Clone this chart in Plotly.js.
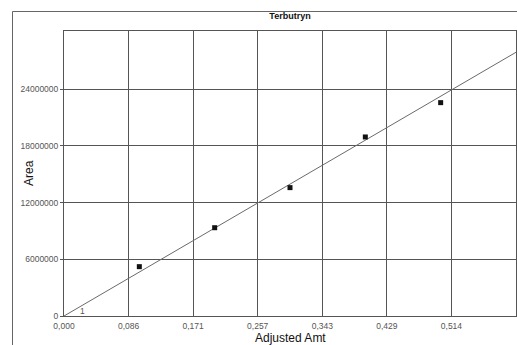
<!DOCTYPE html>
<html>
<head>
<meta charset="utf-8">
<script src="https://cdn.plot.ly/plotly-3.0.1.min.js"></script>
<style>
html,body{margin:0;padding:0;background:#ffffff;}
#chart{width:517px;height:345px;}
</style>
</head>
<body>
<div id="chart"></div>
<script>
// Calibration points (Adjusted Amt vs Area)
const amounts = [0.1, 0.2, 0.3, 0.4, 0.5];
const areas = [5220000, 9340000, 13580000, 18940000, 22570000];
// Calibration fit line end points
const fitX = [0, 0.6];
const fitY = [0, 27900000];
// Axis ticks
const xTickVals = [0, 0.6/7, 1.2/7, 1.8/7, 2.4/7, 3.0/7, 3.6/7, 0.6];
const xTickText = ["0,000", "0,086", "0,171", "0,257", "0,343", "0,429", "0,514", ""];
const yTickVals = [0, 6000000, 12000000, 18000000, 24000000];
const yTickText = ["0", "6000000", "12000000", "18000000", "24000000"];
const levelLabel = ["1"];
const levelX = [0.025];
const levelY = [500000];

const font = "Liberation Sans, Arial, sans-serif";

const traces = [
  {
    x: fitX, y: fitY, type: "scatter", mode: "lines",
    line: {color: "#6a6a6a", width: 1}, hoverinfo: "skip", showlegend: false
  },
  {
    x: amounts, y: areas, type: "scatter", mode: "markers",
    marker: {symbol: "square", size: 5, color: "#111111"}, showlegend: false
  }
];

const layout = {
  width: 517, height: 345,
  margin: {l: 64, r: 1, t: 31, b: 29},
  paper_bgcolor: "#ffffff",
  plot_bgcolor: "#ffffff",
  showlegend: false,
  font: {family: font, color: "#444", size: 8.5},
  title: {
    text: "<b>Terbutryn</b>",
    font: {family: font, size: 9, color: "#111"},
    xref: "paper", x: 0.5, xanchor: "center",
    yref: "container", y: 1 - 16/345, yanchor: "middle"
  },
  xaxis: {
    range: [0, 0.6],
    tickmode: "array", tickvals: xTickVals, ticktext: xTickText,
    showgrid: true, gridcolor: "#555", gridwidth: 1,
    zeroline: false,
    showline: true, linecolor: "#555", linewidth: 1, mirror: true,
    ticks: "outside", ticklen: 2, tickcolor: "rgba(0,0,0,0)",
    tickfont: {family: font, size: 8.5, color: "#555"},
    automargin: false, fixedrange: true
  },
  yaxis: {
    range: [0, 30150000],
    tickmode: "array", tickvals: yTickVals, ticktext: yTickText,
    showgrid: true, gridcolor: "#555", gridwidth: 1,
    zeroline: false,
    showline: true, linecolor: "#555", linewidth: 1, mirror: true,
    ticks: "outside", ticklen: 3, tickcolor: "#555",
    tickfont: {family: font, size: 8.5, color: "#555"},
    automargin: false, fixedrange: true
  },
  shapes: [
    {
      type: "rect", xref: "paper", yref: "paper",
      x0: (12.5 - 64) / 452, x1: 1.2,
      y0: -0.3, y1: 1 + (31 - 11.5) / 285,
      line: {color: "#666", width: 1}, fillcolor: "rgba(0,0,0,0)", layer: "below"
    }
  ],
  annotations: [
    {
      x: levelX[0], y: levelY[0], xref: "x", yref: "y",
      text: levelLabel[0], showarrow: false,
      font: {family: font, size: 8.5, color: "#555"}
    },
    {
      x: (29 - 64) / 452, y: (316 - 173) / 285, xref: "paper", yref: "paper",
      xanchor: "center", yanchor: "middle", textangle: -90,
      text: "Area", showarrow: false,
      font: {family: font, size: 12, color: "#111"}
    },
    {
      x: 0.5, y: -(337.5 - 316) / 285, xref: "paper", yref: "paper",
      xanchor: "center", yanchor: "middle",
      text: "Adjusted Amt", showarrow: false,
      font: {family: font, size: 12, color: "#111"}
    }
  ]
};

Plotly.newPlot("chart", traces, layout, {displayModeBar: false, staticPlot: true});
</script>
</body>
</html>
